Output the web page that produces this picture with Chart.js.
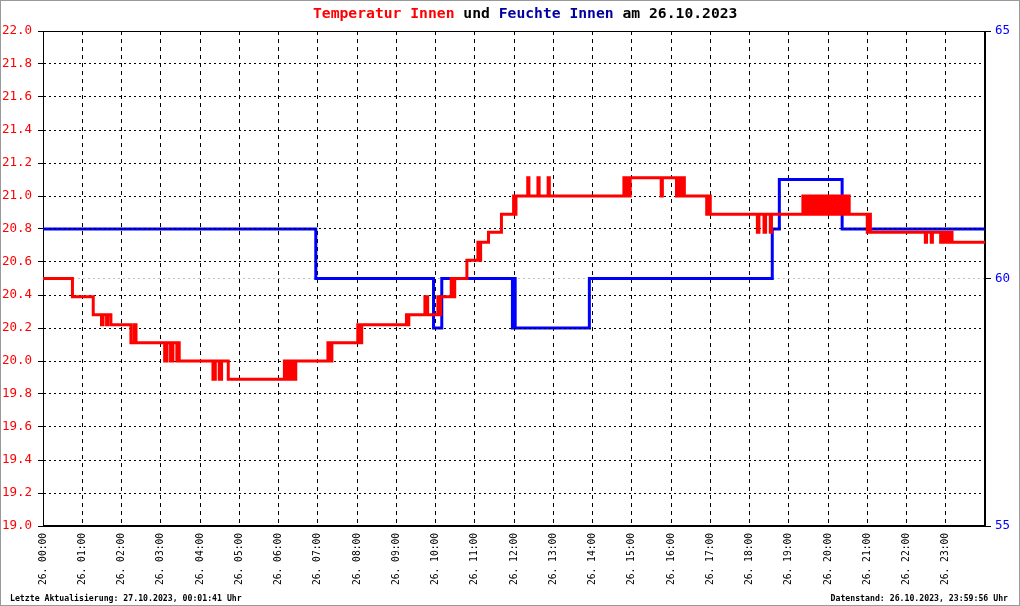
<!DOCTYPE html>
<html>
<head>
<meta charset="utf-8">
<script src="https://cdn.jsdelivr.net/npm/chart.js@4/dist/chart.umd.min.js"></script>
<style>
  html, body { margin: 0; padding: 0; background: #fff; }
  canvas { display: block; }
</style>
</head>
<body>
<canvas id="myChart" width="1020" height="606"></canvas>
<script>
// hours of the day (decimal) and values
const tempTimes = [
  0.00, 0.75, 1.28, 1.49, 1.53, 1.62, 1.65, 1.73, 2.24, 2.32, 2.37,
  3.10, 3.16, 3.25, 3.31, 3.41, 3.44, 3.47,
  4.33, 4.39, 4.49, 4.55, 4.72,
  6.15, 6.20, 6.26, 6.30, 6.36, 6.40, 6.44,
  7.26, 7.30, 7.36, 8.02, 8.06, 8.12,
  9.26, 9.29, 9.32, 9.73, 9.80, 10.06, 10.10, 10.13, 10.40, 10.44, 10.49,
  10.80, 11.08, 11.11, 11.15, 11.35, 11.68, 11.99, 12.02, 12.05,
  12.35, 12.38, 12.61, 12.64, 12.87, 12.90,
  14.80, 14.84, 14.88, 14.92, 14.96, 15.75, 15.78,
  16.14, 16.18, 16.24, 16.28, 16.34, 16.91, 16.95, 17.00,
  18.20, 18.24, 18.37, 18.41, 18.53, 18.56,
  19.36, 19.40, 19.44, 19.49, 19.53, 19.57, 19.62, 19.66, 19.71, 19.75,
  19.80, 19.84, 19.88, 19.93, 19.97, 20.02, 20.06, 20.10, 20.15, 20.19,
  20.24, 20.28, 20.33, 20.37, 20.42, 20.46, 20.50, 20.54,
  21.00, 21.03, 21.08, 22.48, 22.51, 22.63, 22.66,
  22.87, 22.91, 22.96, 23.00, 23.06, 23.10, 23.16, 24.00
];
const tempValues = [
  20.50, 20.39, 20.28, 20.22, 20.28, 20.22, 20.28, 20.22, 20.11, 20.22, 20.11,
  20.00, 20.11, 20.00, 20.11, 20.00, 20.11, 20.00,
  19.89, 20.00, 19.89, 20.00, 19.89,
  20.00, 19.89, 20.00, 19.89, 20.00, 19.89, 20.00,
  20.11, 20.00, 20.11, 20.22, 20.11, 20.22,
  20.28, 20.22, 20.28, 20.39, 20.28, 20.39, 20.28, 20.39, 20.50, 20.39, 20.50,
  20.61, 20.72, 20.61, 20.72, 20.78, 20.89, 21.00, 20.89, 21.00,
  21.11, 21.00, 21.11, 21.00, 21.11, 21.00,
  21.11, 21.00, 21.11, 21.00, 21.11, 21.00, 21.11,
  21.00, 21.11, 21.00, 21.11, 21.00, 20.89, 21.00, 20.89,
  20.78, 20.89, 20.78, 20.89, 20.78, 20.89,
  21.00, 20.89, 21.00, 20.89, 21.00, 20.89, 21.00, 20.89, 21.00, 20.89,
  21.00, 20.89, 21.00, 20.89, 21.00, 20.89, 21.00, 20.89, 21.00, 20.89,
  21.00, 20.89, 21.00, 20.89, 21.00, 20.89, 21.00, 20.89,
  20.78, 20.89, 20.78, 20.72, 20.78, 20.72, 20.78,
  20.72, 20.78, 20.72, 20.78, 20.72, 20.78, 20.72, 20.72
];
const humTimes = [0.00, 6.95, 9.95, 10.16, 11.96, 11.99, 12.03, 13.92, 18.58, 18.76, 20.36, 24.00];
const humValues = [61, 60, 59, 60, 59, 60, 59, 60, 61, 62, 61, 61];

const titleParts = [
  ["Temperatur Innen ", "#ff0000"],
  ["und ", "#000000"],
  ["Feuchte Innen ", "#0000a0"],
  ["am 26.10.2023", "#000000"]
];
const footLeft = "Letzte Aktualisierung: 27.10.2023, 00:01:41 Uhr";
const footRight = "Datenstand: 26.10.2023, 23:59:56 Uhr";
const dayLabel = "26.";

const MONO = "'DejaVu Sans Mono', monospace";

function toPoints(xs, ys) {
  return xs.map((x, i) => ({ x: x, y: ys[i] }));
}

// frame, title, footer and the grid that lies over the blue line
const decorations = {
  id: "decorations",
  beforeDatasetsDraw(chart) {
    const a = chart.chartArea, ctx = chart.ctx;
    ctx.save();
    ctx.strokeStyle = "#000";
    ctx.lineWidth = 1;
    ctx.strokeRect(Math.round(a.left) + 0.5, Math.round(a.top) + 0.5,
      Math.round(a.right - a.left) - 1, Math.round(a.bottom - a.top) - 1);
    ctx.restore();
  },
  afterDatasetDraw(chart, args) {
    if (args.index === 1) {
      chart.scales.y.drawGrid(chart.chartArea);
    }
  },
  afterDraw(chart) {
    const ctx = chart.ctx;
    ctx.save();
    ctx.strokeStyle = "#999";
    ctx.lineWidth = 1;
    ctx.strokeRect(0.5, 0.5, chart.width - 1, chart.height - 1);

    ctx.font = "bold 14.7px " + MONO;
    ctx.textBaseline = "alphabetic";
    ctx.textAlign = "left";
    let x = 313;
    titleParts.forEach(p => {
      ctx.fillStyle = p[1];
      ctx.fillText(p[0], x, 18);
      x += ctx.measureText(p[0]).width;
    });

    ctx.font = "bold 8.2px " + MONO;
    ctx.fillStyle = "#000";
    ctx.textBaseline = "middle";
    ctx.fillText(footLeft, 10, 599);
    ctx.textAlign = "right";
    ctx.fillText(footRight, 1008, 599);
    ctx.restore();
  }
};

const ctx = document.getElementById("myChart").getContext("2d");
const myChart = new Chart(ctx, {
  type: "line",
  data: {
    datasets: [
      {
        label: "Temperatur Innen",
        data: toPoints(tempTimes, tempValues),
        yAxisID: "y",
        borderColor: "#ff0000",
        borderWidth: 3,
        stepped: true,
        pointRadius: 0,
        fill: false
      },
      {
        label: "Feuchte Innen",
        data: toPoints(humTimes, humValues),
        yAxisID: "y2",
        borderColor: "#0000ff",
        borderWidth: 3,
        stepped: true,
        pointRadius: 0,
        fill: false
      }
    ]
  },
  options: {
    responsive: false,
    animation: false,
    devicePixelRatio: 1,
    layout: { padding: { top: 31, left: 0, right: 0, bottom: 0 } },
    plugins: {
      legend: { display: false },
      tooltip: { enabled: false },
      title: { display: false }
    },
    scales: {
      x: {
        type: "linear",
        min: 0,
        max: 24,
        afterFit: s => { s.height = 80; },
        border: { display: true, color: "#000", width: 1, dash: [4, 4] },
        grid: { color: "#000", lineWidth: 1, drawTicks: false },
        ticks: {
          stepSize: 1,
          autoSkip: false,
          minRotation: 90,
          maxRotation: 90,
          padding: 7,
          color: "#000",
          font: { family: MONO, size: 9.6 },
          callback: v => {
            if (v >= 24) return null;
            return dayLabel + " " + String(v).padStart(2, "0") + ":00";
          }
        }
      },
      y: {
        position: "left",
        min: 19,
        max: 22,
        afterFit: s => { s.width = 43; },
        border: { display: true, color: "#000", width: 1, dash: [2, 3] },
        grid: { color: "#000", lineWidth: 1, tickLength: 5, tickColor: "#000", tickBorderDash: [] },
        ticks: {
          stepSize: 0.2,
          padding: 6,
          color: "#ff0000",
          font: { family: MONO, size: 12.5 },
          callback: v => v.toFixed(1)
        }
      },
      y2: {
        position: "right",
        min: 55,
        max: 65,
        afterFit: s => { s.width = 35; },
        border: { display: true, color: "#000", width: 1, dash: [2, 3] },
        grid: { color: "#c0c0c0", lineWidth: 1, tickLength: 6, tickColor: "#000", tickBorderDash: [] },
        ticks: {
          stepSize: 5,
          padding: 4,
          color: "#0000ff",
          font: { family: MONO, size: 12.5 }
        }
      }
    }
  },
  plugins: [decorations]
});
</script>
</body>
</html>
